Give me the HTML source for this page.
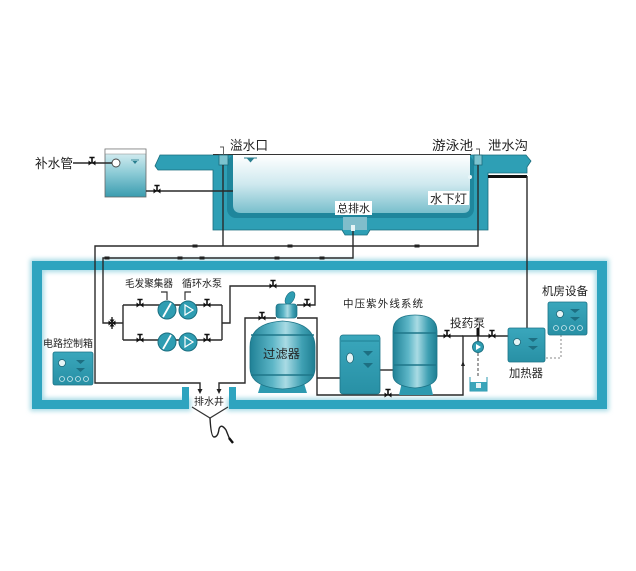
<!DOCTYPE html>
<html><head><meta charset="utf-8"><style>
html,body{margin:0;padding:0;background:#fff;}
svg{display:block;}
text{font-family:"Liberation Sans","Noto Sans CJK SC",sans-serif;fill:#222;}
</style></head><body>
<svg width="636" height="571" viewBox="0 0 636 571" xmlns="http://www.w3.org/2000/svg">
<defs>
<linearGradient id="water" x1="0" y1="0" x2="0" y2="1">
<stop offset="0" stop-color="#ffffff"/><stop offset="0.5" stop-color="#cfe9ef"/><stop offset="1" stop-color="#78bfcc"/>
</linearGradient>
<linearGradient id="btank" x1="0" y1="0" x2="0" y2="1">
<stop offset="0" stop-color="#e2f3f6"/><stop offset="0.5" stop-color="#8ccbd6"/><stop offset="1" stop-color="#3a9caf"/>
</linearGradient>
<linearGradient id="barrel" x1="0" y1="0" x2="1" y2="0">
<stop offset="0" stop-color="#1f8196"/><stop offset="0.35" stop-color="#5db6c7"/><stop offset="0.55" stop-color="#a9dbe4"/><stop offset="0.8" stop-color="#3fa0b3"/><stop offset="1" stop-color="#1e7e92"/>
</linearGradient>
<linearGradient id="box" x1="0" y1="0" x2="0" y2="1">
<stop offset="0" stop-color="#3aa7bc"/><stop offset="1" stop-color="#2890a5"/>
</linearGradient>
<filter id="glow" x="-5%" y="-10%" width="110%" height="120%"><feGaussianBlur stdDeviation="2.5"/></filter>
<g id="v"><path d="M-3.5,-2.5 L3.5,2.5 L3.5,-2.5 L-3.5,2.5 Z" fill="#111"/><path d="M0,0 V-5.5 M-2.6,-5.5 H2.6" stroke="#111" stroke-width="1.6" fill="none"/></g>
<g id="arr"><path d="M-2.5,-1.5 H2.5 V1.5 H-2.5 Z" fill="#222"/></g>
</defs>

<!-- Pool -->
<path d="M160,155 H526 L531,161 L527,167 V173 H488 V230 H370 L367,235 H345 L342,230 H213 V170 H158 L155,166 Z" fill="#2e9fb5" stroke="#1b6c7c" stroke-width="0.8"/>
<rect x="227" y="155" width="247" height="63" rx="9" fill="#1f869c"/>
<path d="M233,155 H470 V206 Q470 213 463 213 H241 Q233 213 233 205 Z" fill="url(#water)"/>
<path d="M213,154.5 H471" stroke="#333" stroke-width="1"/>
<circle cx="470" cy="177" r="2" fill="#e8f6f8"/>
<path d="M244,158 H257" stroke="#2a7f90" stroke-width="1"/>
<path d="M247,158.5 L254,158.5 L250.5,162.5 Z" fill="#2a7f90"/>
<rect x="219" y="155" width="9" height="10" fill="#7cc3cf" stroke="#1b6c7c" stroke-width="0.8"/>
<path d="M220,147 H223.5 V155" stroke="#555" stroke-width="0.9" fill="none"/>
<rect x="474" y="155" width="8" height="10" fill="#7cc3cf" stroke="#1b6c7c" stroke-width="0.8"/>
<path d="M476,149 H479.5 V155" stroke="#555" stroke-width="0.9" fill="none"/>
<rect x="343" y="217" width="24" height="13" fill="#80bdcb"/>
<rect x="351" y="225" width="4" height="6" fill="#e6f4f6"/>
<rect x="335" y="201" width="37" height="14" fill="#fff"/>
<text x="337" y="212" font-size="11" textLength="33" lengthAdjust="spacingAndGlyphs">总排水</text>
<rect x="428" y="191" width="41" height="14" fill="#fff"/>
<text x="430" y="203" font-size="12" textLength="37" lengthAdjust="spacingAndGlyphs">水下灯</text>

<path d="M488,176.5 H527" stroke="#111" stroke-width="3"/>

<!-- Balance tank -->
<rect x="105" y="149" width="41" height="48" fill="url(#btank)" stroke="#666" stroke-width="0.8"/>
<rect x="105.4" y="149.4" width="40.2" height="4.6" fill="#fff"/>
<path d="M105,154 H146" stroke="#888" stroke-width="0.6"/>
<circle cx="116" cy="163" r="4" fill="#fff" stroke="#444" stroke-width="0.9"/>
<path d="M131,160 H139" stroke="#2a7f90" stroke-width="0.8"/>
<path d="M132.5,161 L137.5,161 L135,164 Z" fill="#2a7f90"/>

<text x="35" y="168" font-size="13" textLength="38" lengthAdjust="spacingAndGlyphs">补水管</text>
<text x="230" y="150" font-size="13" textLength="38" lengthAdjust="spacingAndGlyphs">溢水口</text>
<text x="432" y="150" font-size="13" textLength="41" lengthAdjust="spacingAndGlyphs">游泳池</text>
<text x="488" y="150" font-size="13" textLength="40" lengthAdjust="spacingAndGlyphs">泄水沟</text>

<!-- Equipment room border glow -->
<g fill="#a8dbe6" filter="url(#glow)">
<rect x="30" y="259" width="579" height="13"/>
<rect x="30" y="259" width="14" height="152"/>
<rect x="595" y="259" width="14" height="152"/>
<rect x="30" y="398" width="161" height="13"/>
<rect x="227" y="398" width="382" height="13"/>
</g>
<g fill="#2ea4bf">
<rect x="32" y="261" width="575" height="9"/>
<rect x="32" y="261" width="10" height="148"/>
<rect x="597" y="261" width="10" height="148"/>
<rect x="32" y="400" width="157" height="9"/>
<rect x="229" y="400" width="378" height="9"/>
<rect x="182" y="387" width="7" height="22"/>
<rect x="229" y="387" width="7" height="22"/>
</g>

<!-- Pipes -->
<g stroke="#2a2a2a" stroke-width="1.4" fill="none">
<path d="M73,163 H112"/>
<path d="M146,191 H233"/>
<path d="M223,165 V246"/>
<path d="M478,165 V246 H95 V383 H200 V391"/>
<path d="M353,231 V258 H103 V323 H123"/>
<path d="M123,305 V340 M123,305 H222 M123,340 H222 M222,305 V340"/>
<path d="M222,323 H230 V286 H315 V305 H297"/>
<path d="M276,318 H245 V383 H219 V391"/>
<path d="M297,318 H317 V395 H463 V336 H508"/>
<path d="M437,336 H463"/>
<path d="M317,378 H340"/>
<path d="M380,370 H393"/>
<path d="M527,176 V328"/>
<path d="M478,336 V342"/>
</g>
<path d="M478,353 V378" stroke="#444" stroke-width="1" stroke-dasharray="3,2" fill="none"/>
<path d="M561,335 V358 H546" stroke="#888" stroke-width="1" stroke-dasharray="2,2" fill="none"/>
<path d="M197.5,389 L200,394 L202.5,389 Z" fill="#222"/>
<path d="M216.5,389 L219,394 L221.5,389 Z" fill="#222"/>
<path d="M461,366 L463,361 L465,366 Z" fill="#222"/>

<use href="#v" x="92" y="163"/>
<use href="#v" x="157" y="191"/>
<use href="#v" x="140" y="305"/>
<use href="#v" x="207" y="305"/>
<use href="#v" x="140" y="340"/>
<use href="#v" x="207" y="340"/>
<use href="#v" x="273" y="286"/>
<use href="#v" x="262" y="318"/>
<use href="#v" x="307" y="305"/>
<use href="#v" x="388" y="395"/>
<use href="#v" x="447" y="336"/>
<use href="#v" x="492" y="336"/>
<use href="#arr" x="195" y="246"/>
<use href="#arr" x="290" y="246"/>
<use href="#arr" x="417" y="246"/>
<use href="#arr" x="107" y="258"/>
<use href="#arr" x="180" y="258"/>
<use href="#arr" x="202" y="258"/>
<use href="#arr" x="277" y="258"/>
<use href="#arr" x="322" y="258"/>
<path d="M108.5,320.5 L115.5,325.5 L115.5,320.5 L108.5,325.5 Z" fill="#111"/>
<path d="M109.5,319.5 L114.5,326.5 L109.5,326.5 L114.5,319.5 Z" fill="#111"/>
<path d="M112,317 V329" stroke="#111" stroke-width="1.3"/>

<!-- hair collectors & pumps -->
<path d="M161,292 H167 V300 M185,300 V292 H191" stroke="#333" stroke-width="1.2" fill="none"/>
<g stroke="#1b6f80" stroke-width="1">
<circle cx="167" cy="310" r="9" fill="#2f9db2"/>
<circle cx="167" cy="342" r="9" fill="#2f9db2"/>
<circle cx="188" cy="310" r="9" fill="#2f9db2"/>
<circle cx="188" cy="342" r="9" fill="#2f9db2"/>
</g>
<path d="M163,317 L171,303 M163,349 L171,335" stroke="#fff" stroke-width="1.8"/>
<path d="M185,305 L193,310 L185,315 Z M185,337 L193,342 L185,347 Z" fill="none" stroke="#fff" stroke-width="1.2"/>
<text x="125" y="287" font-size="10" textLength="48" lengthAdjust="spacingAndGlyphs">毛发聚集器</text>
<text x="182" y="287" font-size="10" textLength="40" lengthAdjust="spacingAndGlyphs">循环水泵</text>

<!-- Control box -->
<text x="43" y="347" font-size="10" textLength="50" lengthAdjust="spacingAndGlyphs">电路控制箱</text>
<rect x="53" y="352" width="40" height="33" rx="2" fill="url(#box)" stroke="#1d7487" stroke-width="0.8"/>
<circle cx="62" cy="363" r="3.5" fill="#e5f4f6" stroke="#1d6070" stroke-width="0.7"/>
<path d="M76,360 H85 L80.5,364 Z M76,368 H85 L80.5,372 Z" fill="#1d6f82"/>
<g fill="none" stroke="#cfe9ee" stroke-width="0.8">
<circle cx="62" cy="379" r="2.5"/><circle cx="70" cy="379" r="2.5"/><circle cx="78" cy="379" r="2.5"/><circle cx="86" cy="379" r="2.5"/>
</g>

<!-- Filter -->
<ellipse cx="290" cy="298" rx="4" ry="7" transform="rotate(30 290 298)" fill="#2f9db2" stroke="#1d7487" stroke-width="0.7"/>
<rect x="276" y="304" width="21" height="14" rx="3" fill="url(#barrel)" stroke="#1d7487" stroke-width="0.7"/>
<path d="M262,380 H303 L307,393 H258 Z" fill="#2e9ab0"/>
<path d="M250,347 Q250 323 282.5 321 Q315 323 315 347 V368 Q315 387 282.5 389 Q250 387 250 368 Z" fill="url(#barrel)" stroke="#1d7487" stroke-width="0.8"/>
<path d="M251,335 H314 M251,375 H314" stroke="#1e7689" stroke-width="1.4"/>
<text x="263" y="358" font-size="12" textLength="37" lengthAdjust="spacingAndGlyphs">过滤器</text>

<!-- UV system -->
<text x="343" y="307" font-size="10.5" textLength="80" lengthAdjust="spacing">中压紫外线系统</text>
<rect x="340" y="335" width="40" height="59" rx="3" fill="url(#box)" stroke="#1d7487" stroke-width="0.8"/>
<path d="M341,341 H379" stroke="#1f8195" stroke-width="1"/>
<ellipse cx="350" cy="358" rx="3.5" ry="5" fill="#e5f4f6" stroke="#1d6070" stroke-width="0.7"/>
<path d="M363,351 H373 L368,356 Z M363,363 H373 L368,368 Z" fill="#1d6f82"/>
<path d="M402,382 H430 L433,395 H399 Z" fill="#2e9ab0"/>
<path d="M393,331 Q393 315 415 315 Q437 315 437 331 V375 Q437 386 415 388 Q393 386 393 375 Z" fill="url(#barrel)" stroke="#1d7487" stroke-width="0.8"/>
<path d="M394,333 H436 M394,365 H436" stroke="#1e7689" stroke-width="1.4"/>

<!-- Dosing pump -->
<text x="450" y="327" font-size="11.5" textLength="35" lengthAdjust="spacingAndGlyphs">投药泵</text>
<rect x="476.5" y="328" width="3" height="8" fill="#111"/>
<circle cx="478" cy="347" r="5.5" fill="#2f9db2" stroke="#1b6f80" stroke-width="0.9"/>
<path d="M476,344 L481,347 L476,350 Z" fill="#fff"/>
<path d="M470,377 V391 H487 V377" fill="none" stroke="#2e9ab0" stroke-width="1"/>
<rect x="470.5" y="382" width="16" height="9" fill="#3aa5ba"/>
<rect x="476" y="383" width="5" height="5" fill="#e5f4f6"/>

<!-- Heater -->
<rect x="508" y="328" width="37" height="34" rx="2" fill="url(#box)" stroke="#1d7487" stroke-width="0.8"/>
<circle cx="517" cy="342" r="3.5" fill="#e5f4f6" stroke="#1d6070" stroke-width="0.7"/>
<path d="M528,338 H538 L533,342 Z M528,346 H538 L533,350 Z" fill="#1d6f82"/>
<text x="509" y="377" font-size="11.5" textLength="34" lengthAdjust="spacingAndGlyphs">加热器</text>

<!-- Machine room equipment -->
<text x="542" y="295" font-size="11.5" textLength="46" lengthAdjust="spacingAndGlyphs">机房设备</text>
<rect x="548" y="302" width="39" height="33" rx="2" fill="url(#box)" stroke="#1d7487" stroke-width="0.8"/>
<circle cx="560" cy="314" r="3.5" fill="#e5f4f6" stroke="#1d6070" stroke-width="0.7"/>
<path d="M570,309 H580 L575,313 Z M570,317 H580 L575,321 Z" fill="#1d6f82"/>
<g fill="none" stroke="#cfe9ee" stroke-width="0.8">
<circle cx="556" cy="328" r="2.5"/><circle cx="564" cy="328" r="2.5"/><circle cx="572" cy="328" r="2.5"/><circle cx="580" cy="328" r="2.5"/>
</g>

<!-- Drain well -->
<text x="194" y="405" font-size="10" textLength="30" lengthAdjust="spacingAndGlyphs">排水井</text>
<path d="M192,407 L210,418 L228,407" stroke="#333" stroke-width="1.2" fill="none"/>
<path d="M210,418 Q211 437 214 437 Q218 437 219 429 Q221 423 226 430 L230,440" stroke="#222" stroke-width="1.4" fill="none"/>
<path d="M229,438 L233,443" stroke="#111" stroke-width="2.4"/>
</svg>
</body></html>
